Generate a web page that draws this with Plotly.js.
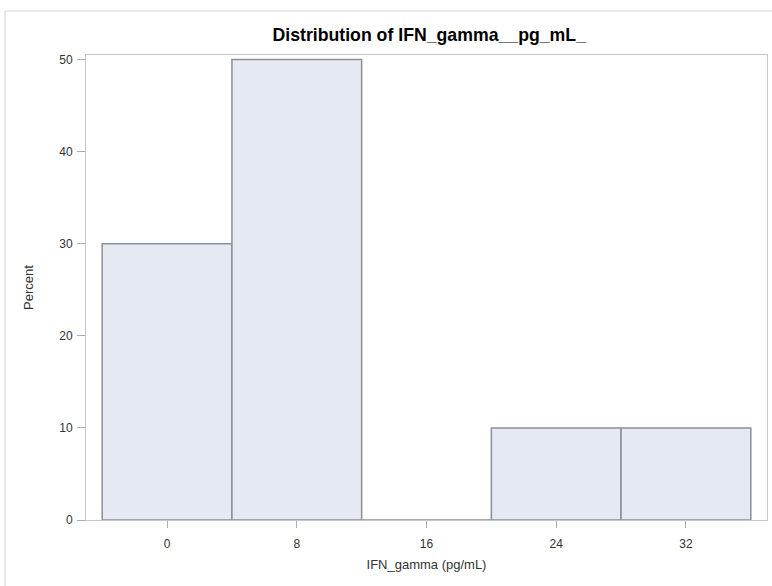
<!DOCTYPE html>
<html>
<head>
<meta charset="utf-8">
<script src="https://cdn.plot.ly/plotly-3.0.1.min.js"></script>
<style>html,body{margin:0;padding:0;background:#fff;}#chart{width:772px;height:586px;}</style>
</head>
<body>
<div id="chart"></div>
<script>
const binCenters = [0, 8, 16, 24, 32];
const percents = [30, 50, 0, 10, 10];
const xTickVals = [0, 8, 16, 24, 32];
const xTickText = ['0', '8', '16', '24', '32'];
const yTickVals = [0, 10, 20, 30, 40, 50];
const binWidth = 8;

const sans = 'Liberation Sans, Arial, sans-serif';

const trace = {
  type: 'bar',
  x: binCenters,
  y: percents,
  width: binCenters.map(() => binWidth),
  marker: {color: '#e5e9f2', line: {color: '#8a9098', width: 1.5}},
  hoverinfo: 'x+y'
};

const axisCommon = {
  showgrid: false, zeroline: false, showline: true, mirror: true,
  linecolor: '#c4c7cb', linewidth: 1,
  ticks: 'outside', tickcolor: '#a9adb2', tickwidth: 1,
  tickfont: {family: sans, size: 12, color: '#333'}
};

const layout = {
  width: 772, height: 586,
  margin: {l: 86, r: 5, t: 55, b: 66},
  paper_bgcolor: '#fff', plot_bgcolor: '#fff',
  font: {family: sans, color: '#222'},
  title: {text: '<b>Distribution of IFN_gamma__pg_mL_</b>', font: {family: sans, size: 17.7, color: '#000'}, x: 0.556, xanchor: 'center', y: 0.941, yanchor: 'middle'},
  xaxis: Object.assign({}, axisCommon, {
    range: [-5, 37], tickvals: xTickVals, ticktext: xTickText, ticklen: 7, ticklabelstandoff: 6,
    title: {text: 'IFN_gamma (pg/mL)', font: {family: sans, size: 13, color: '#333'}, standoff: 9}
  }),
  yaxis: Object.assign({}, axisCommon, {
    range: [0, 50.5], tickvals: yTickVals, ticklen: 8, ticklabelstandoff: 2,
    title: {text: 'Percent', font: {family: sans, size: 13, color: '#333'}, standoff: 22}
  }),
  bargap: 0,
  showlegend: false,
  shapes: [{
    type: 'rect', xref: 'paper', yref: 'paper',
    x0: -0.119, x1: 1.5, y0: -0.5, y1: 1.0946,
    line: {color: '#d4d4d4', width: 1}, fillcolor: 'rgba(0,0,0,0)', layer: 'below'
  }]
};

Plotly.newPlot('chart', [trace], layout, {displayModeBar: false, staticPlot: true});
</script>
</body>
</html>
